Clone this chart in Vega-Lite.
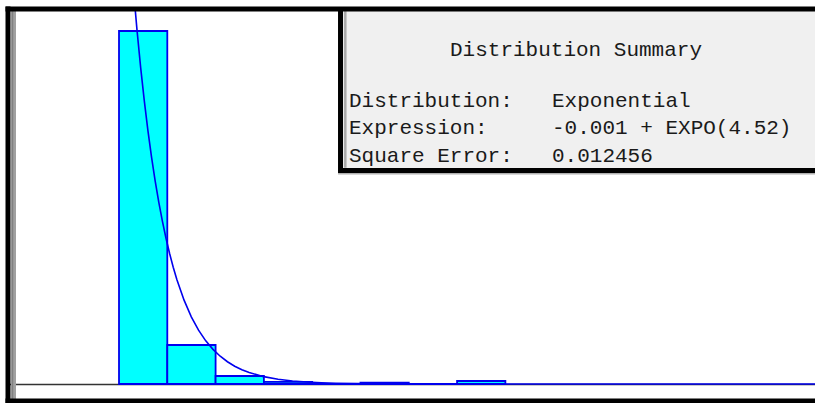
{
  "$schema": "https://vega.github.io/schema/vega-lite/v6.json",
  "width": 807,
  "height": 392,
  "autosize": {"type": "none"},
  "padding": {"left": 8, "top": 9, "right": 0, "bottom": 2},
  "background": "white",
  "config": {"view": {"stroke": null}},
  "datasets": {
    "bins": [
      {"bin_start": 0, "bin_end": 6.68, "freq": 0.8506},
      {"bin_start": 6.68, "bin_end": 13.36, "freq": 0.094},
      {"bin_start": 13.36, "bin_end": 20.04, "freq": 0.0193},
      {"bin_start": 20.04, "bin_end": 26.72, "freq": 0.005},
      {"bin_start": 26.72, "bin_end": 33.4, "freq": 0},
      {"bin_start": 33.4, "bin_end": 40.08, "freq": 0.0035},
      {"bin_start": 40.08, "bin_end": 46.76, "freq": 0},
      {"bin_start": 46.76, "bin_end": 53.44, "freq": 0.0072}
    ],
    "curve": [
      {"x": 0, "density": 1.4795},
      {"x": 0.5, "density": 1.3246},
      {"x": 1, "density": 1.186},
      {"x": 1.5, "density": 1.0617},
      {"x": 2, "density": 0.9504},
      {"x": 2.5, "density": 0.851},
      {"x": 3, "density": 0.7619},
      {"x": 3.5, "density": 0.6821},
      {"x": 4, "density": 0.6106},
      {"x": 4.5, "density": 0.5467},
      {"x": 5, "density": 0.4894},
      {"x": 5.5, "density": 0.4382},
      {"x": 6, "density": 0.3923},
      {"x": 6.5, "density": 0.3512},
      {"x": 7, "density": 0.3144},
      {"x": 7.5, "density": 0.2815},
      {"x": 8, "density": 0.252},
      {"x": 9, "density": 0.202},
      {"x": 10, "density": 0.1619},
      {"x": 11, "density": 0.1298},
      {"x": 12, "density": 0.104},
      {"x": 13, "density": 0.0834},
      {"x": 14, "density": 0.0669},
      {"x": 15, "density": 0.0536},
      {"x": 16, "density": 0.0429},
      {"x": 17, "density": 0.0344},
      {"x": 18, "density": 0.0276},
      {"x": 20, "density": 0.0177},
      {"x": 22, "density": 0.0114},
      {"x": 24, "density": 0.0073},
      {"x": 26, "density": 0.0047},
      {"x": 28, "density": 0.003},
      {"x": 30, "density": 0.0019},
      {"x": 33, "density": 0.001},
      {"x": 36, "density": 0.0005},
      {"x": 40, "density": 0.0002},
      {"x": 50, "density": 0},
      {"x": 97, "density": 0}
    ],
    "summary": [
      {
        "heading": "Distribution Summary",
        "labels": ["Distribution:", "Expression:", "Square Error:"],
        "values": ["Exponential", "-0.001 + EXPO(4.52)", "0.012456"]
      }
    ]
  },
  "layer": [
    {
      "data": {"values": [{}]},
      "mark": {"type": "rect", "fill": "#f0f0f0", "stroke": "black", "strokeWidth": 5, "clip": true},
      "encoding": {
        "x": {"datum": 30.64, "type": "quantitative", "scale": {"domain": [-15.353, 96.266], "nice": false, "zero": false}, "axis": null},
        "x2": {"datum": 120},
        "y": {"datum": 0.5145, "type": "quantitative", "scale": {"domain": [-0.04096, 0.9036], "nice": false, "zero": false}, "axis": null},
        "y2": {"datum": 1.5}
      }
    },
    {
      "data": {"values": [{}]},
      "mark": {"type": "rule", "color": "#a8a8a8", "strokeWidth": 2.5},
      "encoding": {
        "x": {"datum": 31.3, "type": "quantitative", "scale": {"domain": [-15.353, 96.266], "nice": false, "zero": false}, "axis": null},
        "y": {"datum": 0.521, "type": "quantitative", "scale": {"domain": [-0.04096, 0.9036], "nice": false, "zero": false}, "axis": null},
        "y2": {"datum": 0.9036}
      }
    },
    {
      "data": {"values": [{}]},
      "mark": {"type": "rule", "color": "#b0b0b0", "strokeWidth": 1.5},
      "encoding": {
        "x": {"datum": 30.3, "type": "quantitative", "scale": {"domain": [-15.353, 96.266], "nice": false, "zero": false}, "axis": null},
        "x2": {"datum": 96.266},
        "y": {"datum": 0.5065, "type": "quantitative", "scale": {"domain": [-0.04096, 0.9036], "nice": false, "zero": false}, "axis": null}
      }
    },
    {
      "data": {"name": "summary"},
      "mark": {"type": "text", "font": "Liberation Mono", "fontSize": 21, "color": "#1a1a1a", "align": "left", "baseline": "alphabetic"},
      "encoding": {
        "x": {"datum": 45.78, "type": "quantitative", "scale": {"domain": [-15.353, 96.266], "nice": false, "zero": false}, "axis": null},
        "y": {"datum": 0.7904, "type": "quantitative", "scale": {"domain": [-0.04096, 0.9036], "nice": false, "zero": false}, "axis": null},
        "text": {"field": "heading", "type": "nominal"}
      }
    },
    {
      "data": {"name": "summary"},
      "mark": {"type": "text", "font": "Liberation Mono", "fontSize": 21, "color": "#1a1a1a", "align": "left", "baseline": "alphabetic", "lineHeight": 27.5},
      "encoding": {
        "x": {"datum": 31.81, "type": "quantitative", "scale": {"domain": [-15.353, 96.266], "nice": false, "zero": false}, "axis": null},
        "y": {"datum": 0.6675, "type": "quantitative", "scale": {"domain": [-0.04096, 0.9036], "nice": false, "zero": false}, "axis": null},
        "text": {"field": "labels", "type": "nominal"}
      }
    },
    {
      "data": {"name": "summary"},
      "mark": {"type": "text", "font": "Liberation Mono", "fontSize": 21, "color": "#1a1a1a", "align": "left", "baseline": "alphabetic", "lineHeight": 27.5},
      "encoding": {
        "x": {"datum": 59.89, "type": "quantitative", "scale": {"domain": [-15.353, 96.266], "nice": false, "zero": false}, "axis": null},
        "y": {"datum": 0.6675, "type": "quantitative", "scale": {"domain": [-0.04096, 0.9036], "nice": false, "zero": false}, "axis": null},
        "text": {"field": "values", "type": "nominal"}
      }
    },
    {
      "data": {"values": [{}]},
      "mark": {"type": "rule", "color": "#333333", "strokeWidth": 1.5},
      "encoding": {
        "y": {"datum": -0.0015, "type": "quantitative", "scale": {"domain": [-0.04096, 0.9036], "nice": false, "zero": false}, "axis": null}
      }
    },
    {
      "data": {"name": "bins"},
      "mark": {"type": "rect", "fill": "#00ffff", "stroke": "#0000ee", "strokeWidth": 1.8, "clip": true},
      "encoding": {
        "x": {"field": "bin_start", "type": "quantitative", "scale": {"domain": [-15.353, 96.266], "nice": false, "zero": false}, "axis": null},
        "x2": {"field": "bin_end"},
        "y": {"field": "freq", "type": "quantitative", "scale": {"domain": [-0.04096, 0.9036], "nice": false, "zero": false}, "axis": null},
        "y2": {"datum": 0}
      }
    },
    {
      "data": {"name": "curve"},
      "mark": {"type": "line", "color": "#0000ee", "strokeWidth": 1.6, "clip": true},
      "encoding": {
        "x": {"field": "x", "type": "quantitative", "scale": {"domain": [-15.353, 96.266], "nice": false, "zero": false}, "axis": null},
        "y": {"field": "density", "type": "quantitative", "scale": {"domain": [-0.04096, 0.9036], "nice": false, "zero": false}, "axis": null}
      }
    },
    {
      "data": {"values": [{}]},
      "mark": {"type": "rule", "color": "#a0a0a0", "strokeWidth": 5},
      "encoding": {
        "x": {"datum": -14.592, "type": "quantitative", "scale": {"domain": [-15.353, 96.266], "nice": false, "zero": false}, "axis": null}
      }
    },
    {
      "data": {"values": [{}]},
      "mark": {"type": "rule", "color": "#808080", "strokeWidth": 1.5},
      "encoding": {
        "x": {"datum": -14.73, "type": "quantitative", "scale": {"domain": [-15.353, 96.266], "nice": false, "zero": false}, "axis": null}
      }
    },
    {
      "data": {"values": [{}]},
      "mark": {"type": "rule", "color": "black", "strokeWidth": 5, "strokeCap": "square"},
      "encoding": {
        "x": {"datum": -15.353, "type": "quantitative", "scale": {"domain": [-15.353, 96.266], "nice": false, "zero": false}, "axis": null}
      }
    },
    {
      "data": {"values": [{}]},
      "mark": {"type": "rule", "color": "black", "strokeWidth": 5, "strokeCap": "square"},
      "encoding": {
        "y": {"datum": 0.9036, "type": "quantitative", "scale": {"domain": [-0.04096, 0.9036], "nice": false, "zero": false}, "axis": null}
      }
    },
    {
      "data": {"values": [{}]},
      "mark": {"type": "rule", "color": "black", "strokeWidth": 5, "strokeCap": "square"},
      "encoding": {
        "y": {"datum": -0.04096, "type": "quantitative", "scale": {"domain": [-0.04096, 0.9036], "nice": false, "zero": false}, "axis": null}
      }
    }
  ]
}
